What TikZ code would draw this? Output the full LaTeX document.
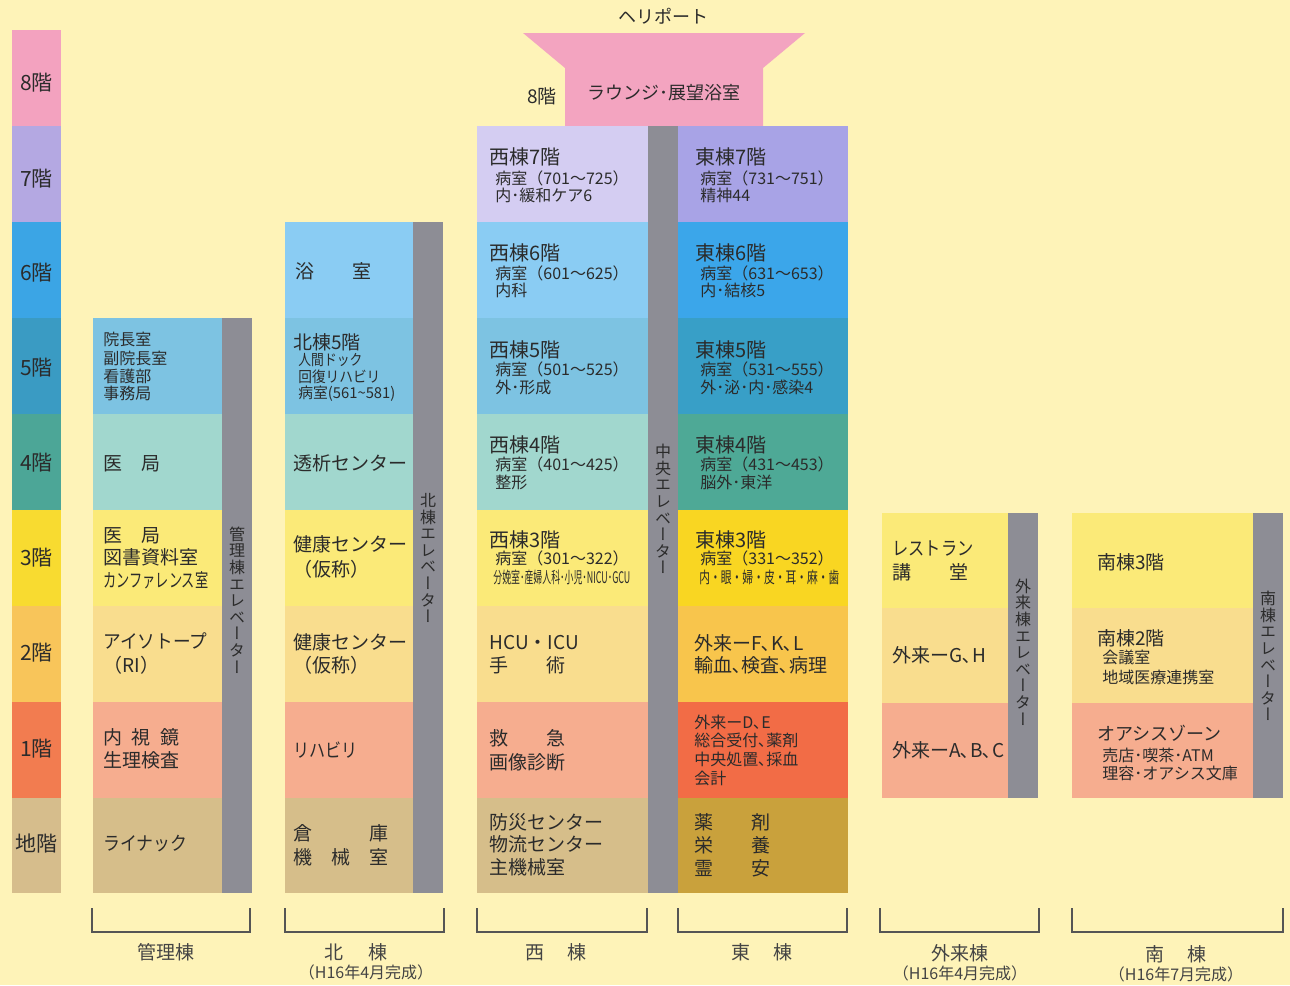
\documentclass[tikz,border=0pt]{standalone}
\usepackage{fontspec}
\usepackage{graphicx}
\setmainfont{Noto Sans CJK JP}
\newfontfamily\vfont[RawFeature=+vert]{Noto Sans CJK JP}
\definecolor{bg}{HTML}{FEF3B8}
\definecolor{ink}{HTML}{2B2B2B}
\definecolor{ink2}{HTML}{444444}
\definecolor{brk}{HTML}{555555}
\definecolor{gv}{HTML}{8D8D95}
\definecolor{ph}{HTML}{F3A4C0}
\definecolor{c8}{HTML}{F3A2BF}
\definecolor{c7}{HTML}{B4A8E2}
\definecolor{c6}{HTML}{3BA5E5}
\definecolor{c5}{HTML}{3A9BC3}
\definecolor{c4}{HTML}{4CA697}
\definecolor{c3}{HTML}{F8DB30}
\definecolor{c2}{HTML}{F8C55A}
\definecolor{c1}{HTML}{F27C50}
\definecolor{cb}{HTML}{D6BD8C}
\definecolor{p7}{HTML}{D4CDF2}
\definecolor{p6}{HTML}{8ACCF3}
\definecolor{p5}{HTML}{7DC3E2}
\definecolor{p4}{HTML}{A1D7CE}
\definecolor{p3}{HTML}{FBEA78}
\definecolor{p2}{HTML}{F9DD8E}
\definecolor{p1}{HTML}{F6AD8F}
\definecolor{pb}{HTML}{D6BE8A}
\definecolor{e7}{HTML}{A8A3E6}
\definecolor{e6}{HTML}{3BA6EA}
\definecolor{e5}{HTML}{389FC7}
\definecolor{e4}{HTML}{4EA996}
\definecolor{e3}{HTML}{F9D622}
\definecolor{e2}{HTML}{F8C54C}
\definecolor{e1}{HTML}{F26C46}
\definecolor{eb}{HTML}{C9A13C}
\newcommand\sq[2]{\resizebox{#1pt}{\height}{#2}}
\newcommand\jt[2]{\makebox[#1em][s]{#2}}
\tikzset{
  hd/.style={anchor=base west, inner sep=0pt, yshift=-3.8pt, text=ink, font=\fontsize{10}{12}\selectfont},
  mn/.style={anchor=base west, inner sep=0pt, yshift=-3.6pt, text=ink, font=\fontsize{9.5}{11}\selectfont},
  sb/.style={anchor=base west, inner sep=0pt, yshift=-3pt, text=ink, font=\fontsize{8}{9}\selectfont},
  ss/.style={anchor=base west, inner sep=0pt, yshift=-2.85pt, text=ink, font=\fontsize{7.5}{9}\selectfont},
  fl/.style={anchor=base, inner sep=0pt, yshift=-4pt, text=ink, font=\fontsize{10.5}{12}\selectfont},
  ct/.style={anchor=base, inner sep=0pt, yshift=-3.4pt, text=ink, font=\fontsize{9}{11}\selectfont},
  bl/.style={anchor=base, inner sep=0pt, yshift=-3.6pt, text=ink2, font=\fontsize{9.5}{11}\selectfont},
  bs/.style={anchor=base, inner sep=0pt, yshift=-3pt, text=ink2, font=\fontsize{8}{9}\selectfont},
  ev/.style={align=center, inner sep=0pt, text=ink, font=\vfont\fontsize{8}{8.3}\selectfont},
  brkline/.style={draw=brk, line width=0.75pt},
}
\begin{document}
\begin{tikzpicture}[x=0.5pt,y=-0.5pt]
\fill[bg] (0,0) rectangle (1290,985);
\useasboundingbox (0,0) rectangle (1290,985);

% floor column
\fill[c8] (12,30) rectangle (61,126);
\fill[c7] (12,126) rectangle (61,222);
\fill[c6] (12,222) rectangle (61,318);
\fill[c5] (12,318) rectangle (61,414);
\fill[c4] (12,414) rectangle (61,510);
\fill[c3] (12,510) rectangle (61,606);
\fill[c2] (12,606) rectangle (61,702);
\fill[c1] (12,702) rectangle (61,798);
\fill[cb] (12,798) rectangle (61,893);
\node[fl] (f8) at (36.5,82) {8階};
\node[fl] (f7) at (36.5,178) {7階};
\node[fl] (f6) at (36.5,272) {6階};
\node[fl] (f5) at (36.5,367) {5階};
\node[fl] (f4) at (36.5,462) {4階};
\node[fl] (f3) at (36.5,557) {3階};
\node[fl] (f2) at (36.5,652) {2階};
\node[fl] (f1) at (36.5,748) {1階};
\node[fl] (fb) at (36.5,843) {地階};

% 管理棟
\fill[p5] (93,318) rectangle (222,414);
\fill[p4] (93,414) rectangle (222,510);
\fill[p3] (93,510) rectangle (222,606);
\fill[p2] (93,606) rectangle (222,702);
\fill[p1] (93,702) rectangle (222,798);
\fill[pb] (93,798) rectangle (222,893);
\fill[gv] (222,318) rectangle (252,893);
\node[sb] (k5a) at (103,339) {院長室};
\node[sb] (k5b) at (103,358) {副院長室};
\node[sb] (k5c) at (103,376) {看護部};
\node[sb] (k5d) at (103,393) {事務局};
\node[mn] (k4) at (103,463) {医　局};
\node[mn] (k3a) at (103,535) {医　局};
\node[mn] (k3b) at (103,557) {図書資料室};
\node[mn] (k3c) at (103,580) {\sq{52.5}{カンファレンス室}};
\node[mn] (k2a) at (103,641) {\sq{52}{アイソトープ}};
\node[mn] (k2b) at (103,665) {（RI）};
\node[mn] (k1a) at (103,737) {内\hspace{.5em}視\hspace{.5em}鏡};
\node[mn] (k1b) at (103,760) {生理検査};
\node[mn] (kb) at (103,843) {\sq{42}{ライナック}};
\node[ev] (kel) at (237,600) {管\\理\\棟\\エ\\レ\\ベ\\ー\\タ\\ー};

% 北棟
\fill[p6] (285,222) rectangle (413,318);
\fill[p5] (285,318) rectangle (413,414);
\fill[p4] (285,414) rectangle (413,510);
\fill[p3] (285,510) rectangle (413,606);
\fill[p2] (285,606) rectangle (413,702);
\fill[p1] (285,702) rectangle (413,798);
\fill[pb] (285,798) rectangle (413,893);
\fill[gv] (413,222) rectangle (443,893);
\node[mn] (n6) at (295,271) {\jt{4}{浴\hfill 室}};
\node[mn] (n5a) at (293,342) {北棟5階};
\node[ss] (n5b) at (298,360) {\sq{32}{人間ドック}};
\node[ss] (n5c) at (298,377) {\sq{41}{回復リハビリ}};
\node[ss] (n5d) at (298,393) {\sq{48.5}{病室(561\textasciitilde 581)}};
\node[mn] (n4) at (293,463) {透析センター};
\node[mn] (n3a) at (293,544) {健康センター};
\node[mn] (n3b) at (293,569) {（仮称）};
\node[mn] (n2a) at (293,642) {健康センター};
\node[mn] (n2b) at (293,665) {（仮称）};
\node[mn] (n1) at (293,750) {\sq{32}{リハビリ}};
\node[mn] (nba) at (293,833) {\jt{5}{倉\hfill 庫}};
\node[mn] (nbb) at (293,857) {\jt{5}{機\hfill 械\hfill 室}};
\node[ev] (nel) at (428,558) {北\\棟\\エ\\レ\\ベ\\ー\\タ\\ー};

% 8F lounge and heliport
\fill[ph] (523,33) -- (805,33) -- (763,68) -- (763,126) -- (565,126) -- (565,68) -- cycle;
\node[ct] (heli) at (663,17) {ヘリポート};
\node[ct] (f8w) at (542,97) {\fontsize{9.5}{11}\selectfont 8階};
\node[ct] (lounge) at (664,93) {ラウンジ･展望浴室};

% 西棟
\fill[p7] (477,126) rectangle (648,222);
\fill[p6] (477,222) rectangle (648,318);
\fill[p5] (477,318) rectangle (648,414);
\fill[p4] (477,414) rectangle (648,510);
\fill[p3] (477,510) rectangle (648,606);
\fill[p2] (477,606) rectangle (648,702);
\fill[p1] (477,702) rectangle (648,798);
\fill[pb] (477,798) rectangle (648,893);
% 東棟
\fill[e7] (678,126) rectangle (848,222);
\fill[e6] (678,222) rectangle (848,318);
\fill[e5] (678,318) rectangle (848,414);
\fill[e4] (678,414) rectangle (848,510);
\fill[e3] (678,510) rectangle (848,606);
\fill[e2] (678,606) rectangle (848,702);
\fill[e1] (678,702) rectangle (848,798);
\fill[eb] (678,798) rectangle (848,893);
\fill[gv] (648,126) rectangle (678,893);

\node[hd] (w7a) at (489,157) {西棟7階};
\node[sb] (w7b) at (495,178) {病室（701～725）};
\node[sb] (w7c) at (495,195) {内･緩和ケア6};
\node[hd] (w6a) at (489,253) {西棟6階};
\node[sb] (w6b) at (495,273) {病室（601～625）};
\node[sb] (w6c) at (495,290) {内科};
\node[hd] (w5a) at (489,350) {西棟5階};
\node[sb] (w5b) at (495,369) {病室（501～525）};
\node[sb] (w5c) at (495,387) {外･形成};
\node[hd] (w4a) at (489,445) {西棟4階};
\node[sb] (w4b) at (495,464) {病室（401～425）};
\node[sb] (w4c) at (495,482) {整形};
\node[hd] (w3a) at (489,540) {西棟3階};
\node[sb] (w3b) at (495,558) {病室（301～322）};
\node[sb] (w3c) at (493,577) {\sq{68.5}{分娩室･産婦人科･小児･NICU･GCU}};
\node[mn] (w2a) at (489,642) {HCU・ICU};
\node[mn] (w2b) at (489,665) {\jt{4}{手\hfill 術}};
\node[mn] (w1a) at (489,738) {\jt{4}{救\hfill 急}};
\node[mn] (w1b) at (489,762) {画像診断};
\node[mn] (wba) at (489,822) {防災センター};
\node[mn] (wbb) at (489,844) {物流センター};
\node[mn] (wbc) at (489,867) {主機械室};

\node[ev] (cel) at (663,509) {中\\央\\エ\\レ\\ベ\\ー\\タ\\ー};

\node[hd] (e7a) at (695,157) {東棟7階};
\node[sb] (e7b) at (700,178) {病室（731～751）};
\node[sb] (e7c) at (700,195) {精神44};
\node[hd] (e6a) at (695,253) {東棟6階};
\node[sb] (e6b) at (700,273) {病室（631～653）};
\node[sb] (e6c) at (700,290) {内･結核5};
\node[hd] (e5a) at (695,350) {東棟5階};
\node[sb] (e5b) at (700,369) {病室（531～555）};
\node[sb] (e5c) at (700,387) {外･泌･内･感染4};
\node[hd] (e4a) at (695,445) {東棟4階};
\node[sb] (e4b) at (700,464) {病室（431～453）};
\node[sb] (e4c) at (700,482) {脳外･東洋};
\node[hd] (e3a) at (695,540) {東棟3階};
\node[sb] (e3b) at (700,558) {病室（331～352）};
\node[sb] (e3c) at (699,577) {\sq{70}{内・眼・婦・皮・耳・麻・歯}};
\node[mn] (e2a) at (694,643) {外来ーF､K､L};
\node[mn] (e2b) at (694,665) {輸血､検査､病理};
\node[sb] (e1a) at (694,722) {外来ーD､E};
\node[sb] (e1b) at (694,740) {総合受付､薬剤};
\node[sb] (e1c) at (694,759) {中央処置､採血};
\node[sb] (e1d) at (694,778) {会計};
\node[mn] (eba) at (694,822) {\jt{4}{薬\hfill 剤}};
\node[mn] (ebb) at (694,845) {\jt{4}{栄\hfill 養}};
\node[mn] (ebc) at (694,868) {\jt{4}{霊\hfill 安}};

% 外来棟
\fill[p3] (882,513) rectangle (1008,608);
\fill[p2] (882,608) rectangle (1008,703);
\fill[p1] (882,703) rectangle (1008,798);
\fill[gv] (1008,513) rectangle (1038,798);
\node[mn] (g3a) at (892,548) {\sq{40.5}{レストラン}};
\node[mn] (g3b) at (892,572) {\jt{4}{講\hfill 堂}};
\node[mn] (g2) at (892,655) {外来ーG､H};
\node[mn] (g1) at (892,750) {外来ーA､B､C};
\node[ev] (gel) at (1023,652) {外\\来\\棟\\エ\\レ\\ベ\\ー\\タ\\ー};

% 南棟
\fill[p3] (1072,513) rectangle (1253,608);
\fill[p2] (1072,608) rectangle (1253,703);
\fill[p1] (1072,703) rectangle (1253,798);
\fill[gv] (1253,513) rectangle (1283,798);
\node[mn] (s3) at (1097,562) {南棟3階};
\node[mn] (s2a) at (1097,638) {南棟2階};
\node[sb] (s2b) at (1102,657) {会議室};
\node[sb] (s2c) at (1102,677) {地域医療連携室};
\node[mn] (s1a) at (1097,733) {\fontsize{9}{11}\selectfont オアシスゾーン};
\node[sb] (s1b) at (1102,755) {売店･喫茶･ATM};
\node[sb] (s1c) at (1102,773) {理容･オアシス文庫};
\node[ev] (sel) at (1268,656) {南\\棟\\エ\\レ\\ベ\\ー\\タ\\ー};

% brackets
\draw[brkline] (92,908) -- (92,932) -- (250,932) -- (250,908);
\draw[brkline] (285,908) -- (285,932) -- (444,932) -- (444,908);
\draw[brkline] (477,908) -- (477,932) -- (647,932) -- (647,908);
\draw[brkline] (678,908) -- (678,932) -- (847,932) -- (847,908);
\draw[brkline] (880,908) -- (880,932) -- (1039,932) -- (1039,908);
\draw[brkline] (1072,908) -- (1072,932) -- (1283,932) -- (1283,908);
\node[bl] (lk) at (166,952) {管理棟};
\node[bl] (ln) at (356,952) {北\hspace{1.3em}棟};
\node[bs] (ln2) at (366,972) {（H16年4月完成）};
\node[bl] (lw) at (556,952) {西\hspace{1.2em}棟};
\node[bl] (le) at (762,952) {東\hspace{1.2em}棟};
\node[bl] (lg) at (960,953) {外来棟};
\node[bs] (lg2) at (960,973) {（H16年4月完成）};
\node[bl] (ls) at (1176,954) {南\hspace{1.2em}棟};
\node[bs] (ls2) at (1176,974) {（H16年7月完成）};
\end{tikzpicture}
\end{document}
